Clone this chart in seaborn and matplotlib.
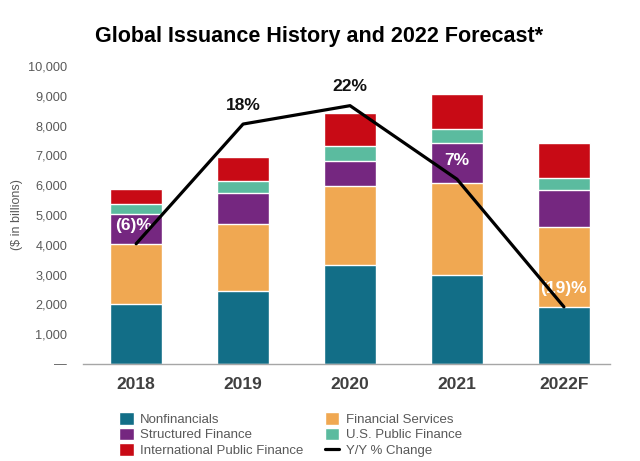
import numpy as np
import pandas as pd
import matplotlib
matplotlib.use("Agg")
import matplotlib.pyplot as plt
import seaborn as sns
from matplotlib.patches import Patch
from matplotlib.lines import Line2D

years = ["2018", "2019", "2020", "2021", "2022F"]
nonfinancials = [2020, 2450, 3330, 2980, 1925]
financial_services = [2000, 2260, 2640, 3105, 2665]
structured_finance = [1020, 1030, 840, 1320, 1250]
us_public_finance = [335, 400, 490, 470, 400]
intl_public_finance = [495, 805, 1130, 1185, 1165]
yoy_change = [-5.8, 18.3, 22.0, 7.2, -18.5]
yoy_labels = ["(6)%", "18%", "22%", "7%", "(19)%"]
yoy_label_colors = ["white", "#111111", "#111111", "white", "white"]

series_names = ["Nonfinancials", "Financial Services", "Structured Finance",
                "U.S. Public Finance", "International Public Finance"]
series_values = [nonfinancials, financial_services, structured_finance,
                 us_public_finance, intl_public_finance]
colors = ["#126e87", "#f0a852", "#752780", "#5bbb9f", "#c80a15"]

sns.set_style("white")
plt.rcParams["font.family"] = ["Liberation Sans", "DejaVu Sans"]

fig = plt.figure(figsize=(6.4, 4.61), dpi=100)
ax = fig.add_axes([0.130, 0.2104, 0.823, 0.6466])

cum = np.cumsum(np.array(series_values), axis=0)
df = pd.DataFrame({"year": years})
for i in range(len(series_names) - 1, -1, -1):
    df["v"] = cum[i]
    sns.barplot(data=df, x="year", y="v", color=colors[i], width=0.486,
                saturation=1, ax=ax, zorder=2)

ax.set_xlim(-0.495, 4.43)
ax.set_ylim(0, 10000)
ticks = np.arange(0, 10001, 1000)
ax.set_yticks(ticks)
ax.set_yticklabels(["—" if t == 0 else f"{t:,}" for t in ticks])
ax.tick_params(axis="y", length=0, pad=11.5, labelsize=9.2, labelcolor="#595959")
ax.tick_params(axis="x", length=0, pad=9, labelsize=12.5, labelcolor="#404040")
for lab in ax.get_xticklabels():
    lab.set_fontweight("bold")
ax.set_xlabel("")
ax.set_ylabel("($ in billions)", fontsize=9, color="#595959", labelpad=4)
for s in ["top", "right", "left"]:
    ax.spines[s].set_visible(False)
ax.spines["bottom"].set_color("#a6a6a6")
ax.spines["bottom"].set_linewidth(1.0)

ax2 = ax.twinx()
sns.lineplot(x=np.arange(len(years)), y=yoy_change, ax=ax2, color="black",
             linewidth=2.3, zorder=5)
ax2.set_ylim(-30, 30)
ax2.set_xlim(ax.get_xlim())
ax2.axis("off")
for i, (v, lab, c) in enumerate(zip(yoy_change, yoy_labels, yoy_label_colors)):
    ax2.annotate(lab, (i, v), xytext=(-2 if i == 0 else 0, 13.5),
                 textcoords="offset points", ha="center", va="center",
                 fontsize=12.5, fontweight="bold", color=c)

fig.text(0.498, 0.92, "Global Issuance History and 2022 Forecast*",
         ha="center", va="center", fontsize=15.5, fontweight="bold", color="black")

handles = [Patch(facecolor=colors[0]), Patch(facecolor=colors[2]),
           Patch(facecolor=colors[4]), Patch(facecolor=colors[1]),
           Patch(facecolor=colors[3]),
           Line2D([0], [0], color="black", linewidth=2.3)]
labels = [series_names[0], series_names[2], series_names[4],
          series_names[1], series_names[3], "Y/Y % Change"]
leg = fig.legend(handles, labels, ncol=2, loc="upper left",
                 bbox_to_anchor=(0.178, 0.118), frameon=False, fontsize=9.5,
                 handlelength=1.1, handleheight=1.1, handletextpad=0.5,
                 columnspacing=1.6, labelspacing=0.15, borderaxespad=0)
for t in leg.get_texts():
    t.set_color("#595959")

fig.savefig("out.png", dpi=100)
